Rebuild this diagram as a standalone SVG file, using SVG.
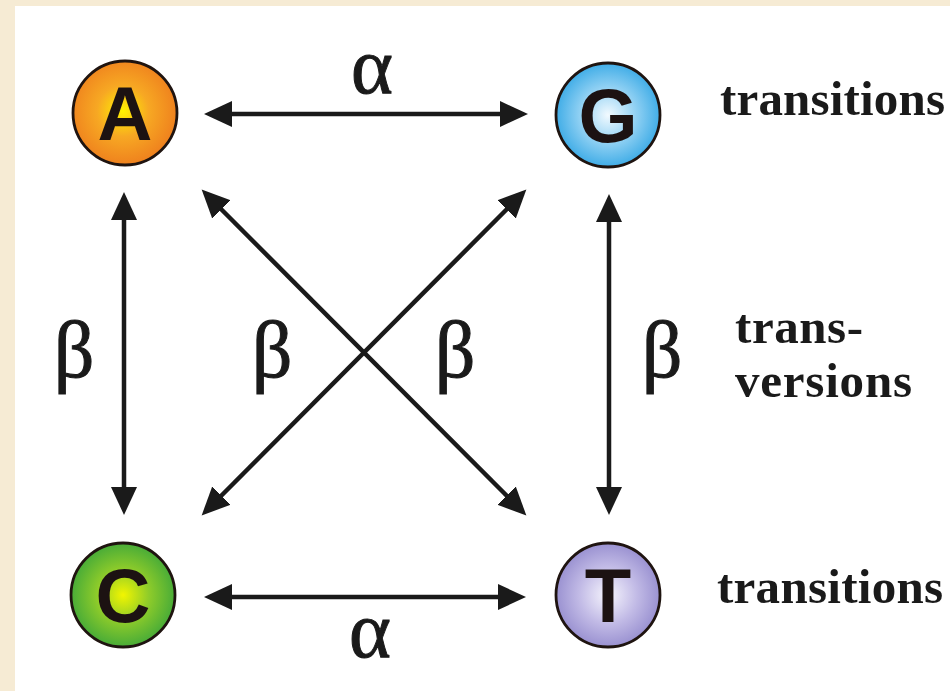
<svg xmlns="http://www.w3.org/2000/svg" width="950" height="691" viewBox="0 0 950 691">
  <defs>
    <radialGradient id="gA" cx="0.48" cy="0.48" r="0.55">
      <stop offset="0" stop-color="#fff200"/>
      <stop offset="0.45" stop-color="#f7a823"/>
      <stop offset="1" stop-color="#ee7d1d"/>
    </radialGradient>
    <radialGradient id="gG" cx="0.5" cy="0.5" r="0.55">
      <stop offset="0" stop-color="#f2faff"/>
      <stop offset="0.5" stop-color="#8fd0f3"/>
      <stop offset="1" stop-color="#2fa5e4"/>
    </radialGradient>
    <radialGradient id="gC" cx="0.5" cy="0.5" r="0.55">
      <stop offset="0" stop-color="#f2f500"/>
      <stop offset="0.45" stop-color="#8fcc2a"/>
      <stop offset="1" stop-color="#3aa53a"/>
    </radialGradient>
    <radialGradient id="gT" cx="0.5" cy="0.5" r="0.55">
      <stop offset="0" stop-color="#f6f5fd"/>
      <stop offset="0.5" stop-color="#c2bbe6"/>
      <stop offset="1" stop-color="#9188cc"/>
    </radialGradient>
    <marker id="ah" markerUnits="userSpaceOnUse" markerWidth="32" markerHeight="30" viewBox="0 -15 32 30" refX="2" refY="0" orient="auto-start-reverse">
      <path d="M0,-13 L28,0 L0,13 z" fill="#1a1a1a"/>
    </marker>
  </defs>
  <style>
    .node circle { stroke: #1f1410; stroke-width: 2.8; }
    .letter { font-family: "Liberation Sans", Arial, sans-serif; font-weight: bold; font-size: 76px; fill: #1c1212; text-anchor: middle; }
    .conn line { stroke: #1a1a1a; stroke-width: 4.5; marker-start: url(#ah); marker-end: url(#ah); }
    .greek { font-family: "Liberation Serif", "Times New Roman", serif; font-size: 80px; fill: #1a1a1a; stroke: #1a1a1a; stroke-width: 1; text-anchor: middle; }
    .lbl { font-family: "Liberation Serif", "Times New Roman", serif; font-weight: bold; font-size: 49px; fill: #1a1a1a; }
  </style>
  <rect x="0" y="0" width="950" height="691" fill="#f6ebd4"/>
  <rect x="15" y="6" width="935" height="685" fill="#ffffff"/>

  <g id="connectors" class="conn">
    <line x1="230" y1="114" x2="502" y2="114"/>
    <line x1="230" y1="597" x2="500" y2="597"/>
    <line x1="124" y1="218" x2="124" y2="489"/>
    <line x1="609" y1="220" x2="609" y2="489"/>
    <line x1="220" y1="208" x2="508" y2="497"/>
    <line x1="508" y1="208" x2="220" y2="497"/>
  </g>

  <g id="node-A" class="node">
    <circle cx="125" cy="113" r="52" fill="url(#gA)"/>
    <text class="letter" x="125" y="140">A</text>
  </g>
  <g id="node-G" class="node">
    <circle cx="608" cy="115" r="52" fill="url(#gG)"/>
    <text class="letter" x="608" y="142">G</text>
  </g>
  <g id="node-C" class="node">
    <circle cx="123" cy="595" r="52" fill="url(#gC)"/>
    <text class="letter" x="123" y="622">C</text>
  </g>
  <g id="node-T" class="node">
    <circle cx="608" cy="595" r="52" fill="url(#gT)"/>
    <text class="letter" x="608" y="622">T</text>
  </g>

  <g id="labels">
    <text class="greek" x="372" y="93">α</text>
    <text class="greek" x="370" y="657">α</text>
    <text class="greek" x="74" y="377">β</text>
    <text class="greek" x="272" y="377">β</text>
    <text class="greek" x="455" y="377">β</text>
    <text class="greek" x="662" y="377">β</text>
    <text class="lbl" x="720" y="115" textLength="225" lengthAdjust="spacing">transitions</text>
    <text class="lbl" x="717" y="603" textLength="226" lengthAdjust="spacing">transitions</text>
    <text class="lbl" x="735" y="343" textLength="128" lengthAdjust="spacing">trans-</text>
    <text class="lbl" x="735" y="397" textLength="177" lengthAdjust="spacing">versions</text>
  </g>
</svg>
